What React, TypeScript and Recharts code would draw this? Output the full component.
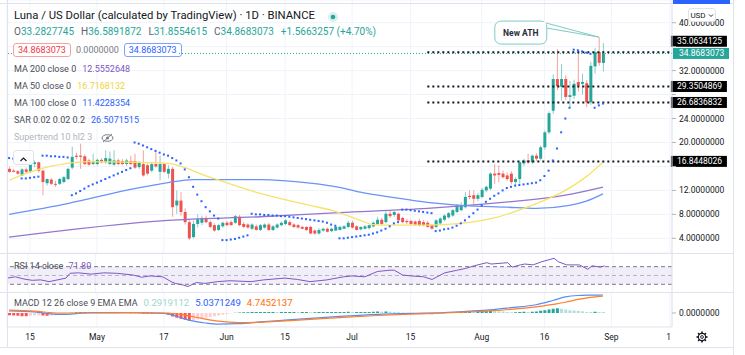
import React from 'react';
import {
  ComposedChart,
  Bar,
  Line,
  Cell,
  XAxis,
  YAxis,
  CartesianGrid,
  ReferenceLine,
  ReferenceArea,
  ReferenceDot,
} from 'recharts';

const FONT = "Roboto, 'Noto Sans', sans-serif";
const UP = '#26a69a';
const DOWN = '#ef5350';
const GRID = '#f0f3fa';
const BORDER = '#e0e3eb';
const TEXT = '#131722';

// day 0 = Apr 10 2021, last candle = day 142 (Aug 30), axis runs to day 158 (Sep 15)
const totalDays = 159;
const tickDays = [5, 21, 37, 52, 66, 82, 96, 113, 128, 144, 158];
const tickLabels = ['15', 'May', '17', 'Jun', '15', 'Jul', '15', 'Aug', '16', 'Sep', '1'];

const priceTicks = [4, 8, 12, 16, 20, 24, 28, 32, 36, 40];
const hiddenPriceTicks = [16, 28, 36];

// [open, high, low, close]
const candles = [
  [15.6, 15.9, 14.9, 15.1], [15.3, 15.6, 15.0, 15.1], [15.2, 15.4, 14.6, 14.8], [14.5, 15.7, 14.4, 15.5],
  [15.5, 15.8, 14.9, 15.1], [15.1, 16.6, 14.9, 16.4], [16.4, 17.0, 15.9, 16.7], [16.7, 16.8, 15.0, 15.3],
  [15.3, 15.5, 11.2, 13.4], [13.2, 14.0, 12.8, 13.9], [13.8, 14.1, 12.9, 13.1], [13.1, 13.6, 12.6, 13.0],
  [13.1, 14.1, 12.9, 13.9], [13.4, 14.4, 13.2, 14.2], [13.9, 15.8, 13.7, 15.6], [15.8, 19.3, 15.5, 17.6],
  [17.8, 18.3, 17.2, 17.6], [17.8, 19.8, 15.6, 17.6], [17.7, 18.0, 16.2, 16.4], [17.0, 17.3, 16.1, 16.3],
  [16.4, 18.1, 16.2, 16.7], [16.4, 17.3, 16.2, 17.1], [17.1, 17.4, 16.5, 16.7], [16.7, 18.7, 16.4, 17.4],
  [16.4, 18.5, 16.2, 17.3], [16.3, 18.7, 16.1, 17.0], [17.0, 17.3, 16.2, 16.4], [16.9, 17.2, 16.2, 16.4],
  [16.4, 17.3, 16.1, 17.0], [16.9, 17.8, 16.2, 16.4], [16.9, 18.1, 15.6, 15.8], [15.9, 16.9, 15.6, 16.7],
  [16.4, 18.7, 14.3, 14.5], [16.2, 16.5, 14.5, 14.8], [15.3, 16.6, 15.0, 16.4], [16.4, 18.7, 15.8, 16.0],
  [15.1, 17.8, 13.7, 16.4], [16.4, 16.6, 14.9, 15.1], [14.8, 16.2, 14.0, 15.6], [15.6, 15.9, 7.6, 9.2],
  [9.5, 12.0, 8.1, 10.3], [10.3, 11.7, 7.8, 8.4], [8.4, 9.0, 6.3, 6.7], [6.7, 7.2, 3.7, 4.0],
  [4.2, 7.0, 4.0, 6.4], [6.4, 8.0, 5.8, 7.2], [6.6, 7.8, 6.2, 7.4], [7.4, 7.8, 6.5, 6.7],
  [6.7, 7.0, 5.7, 5.9], [6.2, 6.5, 5.1, 5.3], [5.4, 6.4, 5.2, 6.2], [6.0, 6.8, 5.8, 6.6],
  [6.6, 6.9, 6.0, 6.2], [6.7, 7.0, 6.1, 6.2], [6.6, 7.9, 6.4, 7.7], [7.6, 7.9, 6.0, 6.2],
  [6.4, 6.7, 5.7, 5.9], [6.3, 6.5, 5.6, 5.8], [5.6, 6.5, 5.4, 6.3], [6.0, 6.3, 5.3, 5.4],
  [5.4, 6.4, 5.2, 6.2], [5.8, 6.5, 5.6, 6.3], [6.3, 6.6, 5.2, 5.4], [5.4, 6.2, 5.2, 6.0],
  [5.8, 6.5, 5.6, 6.3], [6.2, 6.8, 6.0, 6.6], [6.4, 7.2, 6.2, 7.0], [6.7, 7.0, 6.0, 6.2],
  [6.3, 6.5, 5.7, 5.9], [6.2, 6.4, 5.6, 5.8], [5.9, 6.1, 5.5, 5.6], [5.9, 6.0, 5.2, 5.4],
  [5.9, 6.1, 4.7, 4.8], [5.3, 5.5, 4.6, 4.8], [4.8, 5.7, 4.6, 5.4], [5.3, 5.8, 5.1, 5.6],
  [5.6, 5.8, 5.0, 5.1], [5.2, 5.8, 5.0, 5.6], [5.3, 6.0, 5.2, 5.9], [5.4, 6.1, 5.3, 5.9],
  [5.6, 6.2, 5.5, 6.0], [5.9, 6.9, 5.7, 6.6], [6.6, 6.9, 5.6, 5.8], [6.0, 6.2, 5.3, 5.4],
  [5.5, 6.0, 5.3, 5.9], [5.6, 6.2, 5.5, 6.0], [5.7, 6.3, 5.5, 6.2], [6.0, 6.8, 5.8, 6.6],
  [6.4, 7.6, 6.2, 7.1], [7.1, 7.4, 6.2, 6.4], [6.7, 8.5, 6.5, 8.1], [8.1, 8.7, 7.4, 7.7],
  [7.9, 8.5, 7.6, 8.4], [8.1, 8.3, 6.8, 7.0], [7.4, 7.6, 6.5, 6.7], [6.9, 7.2, 6.4, 6.7],
  [6.9, 7.1, 6.2, 6.4], [6.8, 7.0, 6.1, 6.3], [6.9, 7.3, 6.0, 6.2], [6.7, 7.0, 6.0, 6.2],
  [6.6, 6.9, 5.8, 5.9], [6.2, 6.4, 5.5, 5.6], [5.9, 7.2, 5.7, 7.0], [6.5, 7.5, 6.3, 7.3],
  [7.1, 8.0, 6.9, 7.8], [7.5, 8.4, 7.3, 8.2], [7.8, 8.9, 7.6, 8.7], [8.4, 9.7, 8.2, 9.5],
  [8.7, 10.0, 8.5, 9.5], [9.2, 11.7, 9.0, 10.9], [11.1, 12.0, 10.5, 10.9], [11.2, 12.0, 9.5, 10.6],
  [10.6, 11.6, 10.2, 11.2], [10.9, 12.4, 10.7, 12.1], [12.0, 12.8, 11.7, 12.6], [12.3, 15.0, 12.0, 14.8],
  [14.8, 16.4, 13.1, 14.5], [14.9, 16.2, 13.4, 14.6], [14.8, 15.3, 14.0, 14.2], [14.5, 15.0, 13.6, 13.9],
  [14.8, 15.2, 13.0, 13.4], [13.4, 14.2, 12.9, 13.9], [13.9, 17.0, 13.1, 16.7], [16.5, 17.3, 16.1, 17.0],
  [17.0, 18.1, 16.4, 16.7], [16.7, 18.0, 16.4, 17.8], [17.8, 18.2, 16.9, 17.3], [17.3, 19.5, 17.0, 19.2],
  [19.2, 22.0, 18.8, 21.7], [21.7, 25.2, 21.4, 24.9], [25.3, 31.4, 24.8, 30.6], [30.6, 35.6, 28.7, 29.4],
  [29.3, 33.1, 27.0, 30.6], [30.6, 31.2, 27.1, 27.6], [27.6, 30.3, 25.9, 27.9], [27.8, 30.5, 27.3, 29.8],
  [30.1, 35.3, 28.5, 29.5], [29.8, 31.5, 28.0, 30.1], [29.9, 30.4, 25.9, 26.7], [26.7, 33.5, 26.3, 32.8],
  [32.7, 35.8, 31.5, 35.1], [35.1, 37.6, 32.8, 33.3], [33.2827745, 36.5891872, 31.8554615, 34.8683073],
];

const sar = [
  17.4, 17.3, 17.2, 14.0, 14.0, 14.1, 14.2, 14.3, 17.8, 17.8, 17.7, 17.7, 17.6, 17.6, 17.5,
  11.2, 11.5, 11.9, 12.3, 12.7, 13.0, 13.3, 13.6, 13.9, 14.2, 14.5, 14.8, 15.1, 15.4, 15.7,
  20.0, 19.8, 19.5, 19.2, 18.9, 18.6, 18.3, 18.0, 17.8, 17.4, 17.0, 16.5, 15.5, 14.2, 12.6,
  11.3, 10.2, 9.2, 8.5, 7.8, 7.3, 3.7, 3.7, 3.8, 3.9, 4.1, 4.3, 4.5, 8.1, 8.0,
  8.0, 7.9, 7.9, 7.8, 7.8, 7.7, 7.7, 7.6, 7.5, 7.4, 7.3, 7.2, 7.1, 7.0, 6.9,
  6.8, 6.6, 6.3, 6.1, 4.0, 4.0, 4.1, 4.2, 4.3, 4.4, 4.5, 4.6, 4.8, 5.0, 5.3,
  5.6, 6.0, 6.5, 6.7, 8.8, 8.8, 8.7, 8.6, 8.5, 8.4, 8.3, 8.2, 5.2, 5.3, 5.5,
  5.6, 5.8, 6.1, 6.5, 7.0, 7.6, 8.2, 8.8, 9.5, 10.1, 10.6, 11.1, 11.5, 12.0, 12.4,
  12.6, 12.8, 12.9, 13.0, 13.1, 13.2, 13.3, 13.7, 14.4, 15.3, 17.0, 19.0, 21.7, 24.0, 25.8,
  35.5, 35.4, 35.2, 35.0, 34.8, 25.8, 26.2, 26.5071515,
];

// [day, value] readings of the moving averages
const ma50 = [
  [0, 13.7], [6, 15.3], [14, 16.5], [19, 16.8], [30, 16.7], [38, 16.5], [48, 14.2], [60, 11.5],
  [72, 9.5], [77, 8.7], [84, 7.0], [87, 6.3], [92, 6.2], [100, 6.2], [108, 6.5], [117, 7.6],
  [125, 9.5], [133, 12.0], [138, 14.3], [142, 16.7168132],
];
const ma100 = [
  [0, 8.0], [14, 9.8], [30, 12.3], [38, 13.3], [44, 13.8], [60, 13.8], [72, 13.2], [79, 12.5],
  [84, 11.7], [92, 10.8], [100, 10.0], [108, 9.5], [119, 9.2], [126, 9.0], [134, 9.5], [138, 10.2],
  [142, 11.4228354],
];
const ma200 = [
  [0, 4.2], [38, 7.0], [60, 7.6], [79, 8.3], [100, 9.0], [118, 10.0], [133, 11.2], [142, 12.5552648],
];

const rsi = [
  [0, 44], [2, 47], [4, 42], [6, 39], [8, 40], [10, 36], [14, 44], [15, 55], [17, 56], [20, 53],
  [23, 56], [26, 55], [30, 51], [32, 46], [34, 49], [37, 47], [39, 36], [40, 32], [42, 28], [43, 25],
  [45, 34], [47, 32], [50, 36], [53, 38], [58, 36], [61, 40], [66, 44], [69, 41], [72, 36], [76, 40],
  [80, 47], [82, 49], [85, 47], [88, 59], [91, 62], [92, 62], [94, 51], [96, 49], [99, 47], [101, 41],
  [103, 51], [104, 56], [107, 62], [109, 66], [111, 72], [114, 79], [115, 76], [119, 79], [120, 69],
  [122, 74], [123, 76], [125, 74], [127, 81], [130, 89], [131, 81], [133, 74], [136, 74], [138, 64],
  [139, 72], [141, 69], [142, 71.8],
];

const macd = [
  [0, 0.6], [6, 0.3], [12, -0.4], [20, 0.1], [30, 0.1], [37, -0.1], [40, -0.9], [43, -2.0], [47, -2.8],
  [50, -3.1], [55, -3.0], [60, -2.5], [66, -2.0], [72, -1.5], [80, -0.9], [88, -0.4], [96, -0.1],
  [104, 0.1], [110, 0.5], [115, 0.9], [120, 1.5], [126, 2.3], [130, 3.5], [133, 4.5], [136, 4.9],
  [139, 5.0], [142, 5.0371249],
];
const signal = [
  [0, 0.8], [6, 0.5], [12, 0.0], [20, 0.0], [30, 0.1], [38, 0.0], [42, -0.6], [46, -1.5], [50, -2.3],
  [55, -2.7], [60, -2.6], [66, -2.2], [72, -1.8], [80, -1.2], [88, -0.7], [96, -0.3], [104, 0.0],
  [110, 0.3], [115, 0.6], [120, 1.0], [126, 1.7], [130, 2.4], [133, 3.0], [136, 3.8], [139, 4.4],
  [142, 4.7452137],
];
const hist = [
  -0.6, -0.7, -0.8, -0.9, -0.9, -0.8, -0.7, -0.6, -0.7, -0.8, -0.7, -0.6, -0.4, -0.3, -0.1,
  0.1, 0.2, 0.25, 0.25, 0.2, 0.2, 0.15, 0.1, 0.1, 0.1, 0.1, 0.05, 0.05, 0.0, -0.05,
  -0.1, -0.1, -0.2, -0.2, -0.2, -0.15, -0.2, -0.3, -0.5, -1.0, -1.3, -1.6, -1.9, -2.2, -2.1,
  -1.8, -1.5, -1.3, -1.1, -0.9, -0.7, -0.5, -0.3, -0.1, 0.1, 0.15, 0.2, 0.2, 0.25, 0.3,
  0.3, 0.3, 0.3, 0.3, 0.25, 0.3, 0.3, 0.3, 0.3, 0.25, 0.25, 0.25, 0.2, 0.2, 0.25,
  0.25, 0.25, 0.3, 0.3, 0.3, 0.3, 0.35, 0.3, 0.3, 0.3, 0.3, 0.3, 0.35, 0.4, 0.35,
  0.4, 0.35, 0.3, 0.2, 0.1, 0.0, -0.1, -0.2, -0.25, -0.3, -0.3, -0.35, -0.2, -0.1, 0.05,
  0.1, 0.2, 0.3, 0.35, 0.5, 0.5, 0.45, 0.5, 0.55, 0.6, 0.7, 0.6, 0.5, 0.4, 0.3,
  0.2, 0.2, 0.3, 0.35, 0.3, 0.35, 0.4, 0.6, 0.8, 1.0, 1.2, 1.3, 1.2, 1.0, 0.8,
  0.7, 0.6, 0.5, 0.3, 0.25, 0.35, 0.3, 0.2919112,
];

const levels = [
  { value: 35.0634125, from: 100, shift: -11 },
  { value: 29.3504869, from: 100, shift: 0 },
  { value: 26.6836832, from: 100, shift: 0 },
  { value: 16.8448026, from: 100, shift: 0 },
];
const lastClose = 34.8683073;
const athDay = 141;
const athHigh = 37.6;

const rows: any[] = Array.from({ length: totalDays }, (_, i) => {
  const k = candles[i];
  return {
    i,
    o: k ? k[0] : null,
    h: k ? k[1] : null,
    l: k ? k[2] : null,
    c: k ? k[3] : null,
    range: k ? [k[2], k[1]] : null,
    sar: i < sar.length ? sar[i] : null,
    hist: i < hist.length ? hist[i] : null,
    ma50: null, ma100: null, ma200: null, rsi: null, macd: null, signal: null,
  };
});
const put = (key: string, pts: number[][]) => pts.forEach(([d, v]) => { rows[d][key] = v; });
put('ma50', ma50);
put('ma100', ma100);
put('ma200', ma200);
put('rsi', rsi);
put('macd', macd);
put('signal', signal);

const histColor = (i: number) => {
  const v = hist[i];
  const prev = i > 0 ? hist[i - 1] : v;
  if (v >= 0) return v >= prev ? '#26a69a' : '#b2dfdb';
  return v <= prev ? '#ff5252' : '#ffcdd2';
};

const Candle = (props: any) => {
  const { x, y, width, height, payload } = props;
  if (!payload || payload.o == null || !Number.isFinite(y) || !Number.isFinite(height)) return <g />;
  const { o, h, l, c } = payload;
  const top = Math.min(y, y + height);
  const span = Math.abs(height);
  const k = span / (h - l);
  const up = c >= o;
  const bodyTop = top + (h - Math.max(o, c)) * k;
  const bodyH = Math.max(1, Math.abs(o - c) * k);
  const mid = x + width / 2;
  const col = up ? UP : DOWN;
  return (
    <g>
      <line x1={mid} x2={mid} y1={top} y2={top + span} stroke={col} strokeOpacity={0.55} />
      <rect x={x} y={bodyTop} width={width} height={bodyH} fill={col} />
    </g>
  );
};

const SarDot = (p: any) => {
  if (!Number.isFinite(p.cy)) return <g key={`s${p.index}`} />;
  return <rect key={`s${p.index}`} x={p.cx - 1} y={p.cy - 1} width={2} height={2} fill="#2962ff" />;
};

const tag = (text: string, bg: string, shift = 0) => (props: any) => {
  const vb = props.viewBox;
  const x = vb.x + vb.width + 1;
  const y = vb.y + shift;
  return (
    <g>
      <rect x={x} y={y - 5.5} width={56} height={11} fill={bg} />
      <text x={x + 6} y={y} dominantBaseline="central" fontSize={8.5} fill="#fff" fontFamily={FONT}>
        {text}
      </text>
    </g>
  );
};

const PriceTick = (p: any) => {
  const v = p.payload.value;
  if (hiddenPriceTicks.includes(v)) return <g />;
  return (
    <text x={p.x} y={p.y} dominantBaseline="central" textAnchor="start" fontSize={8.5} fill={TEXT} fontFamily={FONT}>
      {v.toFixed(7)}
    </text>
  );
};

const DateTick = (p: any) => {
  const idx = tickDays.indexOf(Number(p.payload.value));
  const last = idx === tickDays.length - 1;
  return (
    <text x={last ? p.x + 1 : p.x} y={p.y} dominantBaseline="central" textAnchor={last ? 'end' : 'middle'}
      fontSize={8.5} fill={TEXT} fontFamily={FONT}>
      {tickLabels[idx]}
    </text>
  );
};

const AthCallout = (p: any) => {
  const { cx, cy } = p;
  const bx = cx - 104;
  const by = cy - 16;
  const bw = 52;
  const bh = 23;
  const stroke = '#80cbc4';
  return (
    <g>
      <path d={`M${bx + bw - 8} ${by} L${cx} ${cy} L${bx + bw} ${by + 7}`} fill="#fff" stroke={stroke} />
      <rect x={bx} y={by} width={bw} height={bh} rx={6} fill="#fff" stroke={stroke} />
      <rect x={bx + bw - 9} y={by + 1} width={8} height={6} fill="#fff" />
      <text x={bx + bw / 2} y={by + bh / 2} dominantBaseline="central" textAnchor="middle" fontSize={8.5}
        fontWeight="bold" fill="#2a2e39" fontFamily={FONT}>
        New ATH
      </text>
    </g>
  );
};

const M = { top: 0, right: 0, bottom: 0, left: 7 };

const MainChart = () => (
  <ComposedChart width={733} height={253} data={rows} margin={M} barCategoryGap={0}>
    <CartesianGrid stroke={GRID} />
    <XAxis dataKey="i" hide ticks={tickDays} interval={0} />
    <YAxis orientation="right" width={61} domain={[1.55, 43.79]} allowDataOverflow ticks={priceTicks}
      interval={0} tick={PriceTick} tickSize={4} tickMargin={3} axisLine={{ stroke: BORDER }}
      tickLine={{ stroke: '#b2b5be' }} />
    <ReferenceLine y={lastClose} stroke={UP} strokeDasharray="1 2" label={tag(lastClose.toFixed(7), UP)} />
    <Bar dataKey="range" barSize={3} shape={Candle} isAnimationActive={false} />
    <Line dataKey="ma200" type="monotone" stroke="#9575cd" strokeWidth={1.3} dot={false} connectNulls isAnimationActive={false} />
    <Line dataKey="ma100" type="monotone" stroke="#6a93f6" strokeWidth={1.3} dot={false} connectNulls isAnimationActive={false} />
    <Line dataKey="ma50" type="monotone" stroke="#f7e26b" strokeWidth={1.3} dot={false} connectNulls isAnimationActive={false} />
    <Line dataKey="sar" stroke="none" dot={SarDot} activeDot={false} isAnimationActive={false} />
    {levels.map((lv) => (
      <ReferenceLine key={lv.value}
        segment={[{ x: lv.from, y: lv.value }, { x: totalDays - 1, y: lv.value }]}
        stroke="#131722" strokeWidth={2} strokeDasharray="2 3"
        label={tag(lv.value.toFixed(7), '#000', lv.shift)} />
    ))}
    <ReferenceDot x={athDay} y={athHigh} r={0} shape={AthCallout} />
  </ComposedChart>
);

const RsiChart = () => (
  <ComposedChart width={733} height={39} data={rows} margin={M}>
    <CartesianGrid stroke={GRID} horizontal={false} />
    <XAxis dataKey="i" hide ticks={tickDays} interval={0} />
    <YAxis orientation="right" width={61} domain={[12.5, 101]} allowDataOverflow tick={false} tickLine={false}
      axisLine={{ stroke: BORDER }} />
    <ReferenceArea y1={30} y2={70} fill="#7e57c2" fillOpacity={0.1} stroke="none" />
    <ReferenceLine y={70} stroke="#787b86" strokeDasharray="4 3" />
    <ReferenceLine y={50} stroke="#787b86" strokeOpacity={0.5} strokeDasharray="4 3" />
    <ReferenceLine y={30} stroke="#787b86" strokeDasharray="4 3" />
    <Line dataKey="rsi" stroke="#7e57c2" strokeWidth={1} dot={false} connectNulls isAnimationActive={false} />
  </ComposedChart>
);

const MacdChart = () => (
  <ComposedChart width={733} height={55} data={rows} margin={M} barCategoryGap={0}>
    <CartesianGrid stroke={GRID} horizontal={false} />
    <XAxis dataKey="i" ticks={tickDays} interval={0} height={20} tick={DateTick} tickLine={false}
      tickSize={0} tickMargin={10} axisLine={{ stroke: BORDER }} />
    <YAxis orientation="right" width={61} domain={[-3.92, 5.88]} allowDataOverflow ticks={[0]} interval={0}
      tick={PriceTick} tickSize={4} tickMargin={3} axisLine={{ stroke: BORDER }} tickLine={{ stroke: '#b2b5be' }} />
    <Bar dataKey="hist" barSize={3} isAnimationActive={false}>
      {rows.map((r) => (
        <Cell key={r.i} fill={r.hist == null ? 'none' : histColor(r.i)} />
      ))}
    </Bar>
    <Line dataKey="macd" type="monotone" stroke="#5b8def" strokeWidth={1.2} dot={false} connectNulls isAnimationActive={false} />
    <Line dataKey="signal" type="monotone" stroke="#ff7f2a" strokeWidth={1.2} dot={false} connectNulls isAnimationActive={false} />
  </ComposedChart>
);

const txt = (color: string, extra: any = {}) => ({ color, fontSize: 9, fontFamily: FONT, whiteSpace: 'nowrap' as const, ...extra });

const Legend = () => {
  const maRows = [
    { label: 'MA 200 close 0', value: '12.5552648', color: '#7e57c2', top: 64 },
    { label: 'MA 50 close 0', value: '16.7168132', color: '#f0d43a', top: 81 },
    { label: 'MA 100 close 0', value: '11.4228354', color: '#2962ff', top: 98 },
    { label: 'SAR 0.02 0.02 0.2', value: '26.5071515', color: '#2962ff', top: 115 },
  ];
  const ohlc = [
    ['O', '33.2827745'], ['H', '36.5891872'], ['L', '31.8554615'], ['C', '34.8683073'],
  ];
  return (
    <>
      <div style={{ position: 'absolute', left: 14, top: 9, ...txt(TEXT, { fontSize: 11.3 }) }}>
        Luna / US Dollar (calculated by TradingView) · 1D · BINANCE
      </div>
      <svg style={{ position: 'absolute', left: 327, top: 11 }} width={12} height={12}>
        <circle cx={6} cy={6} r={5} fill="#26a69a" fillOpacity={0.18} />
        <circle cx={6} cy={6} r={2.3} fill="#26a69a" />
      </svg>
      <div style={{ position: 'absolute', left: 14, top: 25.5, ...txt(UP, { fontSize: 10 }) }}>
        {ohlc.map(([k, v]) => (
          <span key={k} style={{ marginRight: 7 }}>
            <span style={{ color: '#5d606b' }}>{k}</span>{v}
          </span>
        ))}
        <span>+1.5663257 (+4.70%)</span>
      </div>
      <div style={{ position: 'absolute', left: 13, top: 42, width: 166, height: 16, background: '#fff', display: 'flex', alignItems: 'center' }}>
        <div style={{ border: '1px solid #f7a1a3', borderRadius: 3, padding: '1px 4px', ...txt('#f23645') }}>34.8683073</div>
        <div style={{ margin: '0 5px', ...txt('#787b86') }}>0.0000000</div>
        <div style={{ border: '1px solid #7fa2ff', borderRadius: 3, padding: '1px 4px', ...txt('#2962ff') }}>34.8683073</div>
      </div>
      {maRows.map((m) => (
        <div key={m.label} style={{ position: 'absolute', left: 14, top: m.top, ...txt('#4a4d57') }}>
          {m.label}
          <span style={{ color: m.color, marginLeft: 6 }}>{m.value}</span>
        </div>
      ))}
      <div style={{ position: 'absolute', left: 14, top: 132, ...txt('#b2b5be') }}>Supertrend 10 hl2 3</div>
      <svg style={{ position: 'absolute', left: 101, top: 133 }} width={13} height={10}>
        <ellipse cx={6.5} cy={5} rx={5.5} ry={3.3} fill="none" stroke="#787b86" />
        <circle cx={6.5} cy={5} r={1.5} fill="#787b86" />
        <line x1={2} y1={9} x2={11} y2={1} stroke="#787b86" />
      </svg>
      <div style={{ position: 'absolute', left: 13, top: 150, width: 19, height: 13, border: `1px solid ${BORDER}`, borderRadius: 3, background: '#fff' }}>
        <svg width={19} height={13}>
          <path d="M6.5 8 L9.5 5 L12.5 8" fill="none" stroke={TEXT} strokeWidth={1.1} />
        </svg>
      </div>
      <div style={{ position: 'absolute', left: 14, top: 261, ...txt('#4a4d57') }}>
        RSI 14 close <span style={{ color: '#7e57c2', marginLeft: 3 }}>71.80</span>
      </div>
      <div style={{ position: 'absolute', left: 14, top: 297, ...txt('#4a4d57') }}>
        MACD 12 26 close 9 EMA EMA
        <span style={{ color: '#9ed6ce', marginLeft: 6, fontSize: 9.6 }}>0.2919112</span>
        <span style={{ color: '#2962ff', marginLeft: 6, fontSize: 9.6 }}>5.0371249</span>
        <span style={{ color: '#ff6d00', marginLeft: 6, fontSize: 9.6 }}>4.7452137</span>
      </div>
    </>
  );
};

const hLine = (top: number, left = 0, width = 733) => (
  <div style={{ position: 'absolute', left, top, width, height: 1, background: BORDER }} />
);

export default function App() {
  return (
    <div style={{ position: 'absolute', left: 0, top: 0, width: 745, height: 355, background: '#fff', overflow: 'hidden', fontFamily: FONT }}>
      <div style={{ position: 'absolute', left: 0, top: 0 }}><MainChart /></div>
      <div style={{ position: 'absolute', left: 0, top: 253 }}><RsiChart /></div>
      <div style={{ position: 'absolute', left: 0, top: 292 }}><MacdChart /></div>
      {hLine(3)}
      {hLine(253)}
      {hLine(292)}
      {hLine(347)}
      <div style={{ position: 'absolute', left: 7, top: 0, width: 1, height: 347, background: BORDER }} />
      <div style={{ position: 'absolute', left: 733, top: 0, width: 1, height: 355, background: BORDER }} />
      <div style={{ position: 'absolute', left: 673, top: 0, width: 57, height: 4, background: '#2962ff' }} />
      <div style={{ position: 'absolute', left: 688, top: 8, width: 26, height: 12, border: `1px solid ${BORDER}`, borderRadius: 3, background: '#fff',
        display: 'flex', alignItems: 'center', justifyContent: 'center', ...txt(TEXT, { fontSize: 8 }) }}>
        USD
        <svg width={6} height={5} style={{ marginLeft: 2 }}>
          <path d="M1 1.5 L3 3.5 L5 1.5" fill="none" stroke={TEXT} strokeWidth={0.9} />
        </svg>
      </div>
      <svg style={{ position: 'absolute', left: 695, top: 330 }} width={14} height={14}>
        <circle cx={7} cy={7} r={3.6} fill="none" stroke={TEXT} strokeWidth={1.1} />
        <circle cx={7} cy={7} r={1.4} fill="none" stroke={TEXT} strokeWidth={0.9} />
        {[0, 45, 90, 135, 180, 225, 270, 315].map((a) => (
          <line key={a} x1={7} y1={1.5} x2={7} y2={3.4} stroke={TEXT} strokeWidth={1.6} transform={`rotate(${a} 7 7)`} />
        ))}
      </svg>
      <Legend />
    </div>
  );
}
